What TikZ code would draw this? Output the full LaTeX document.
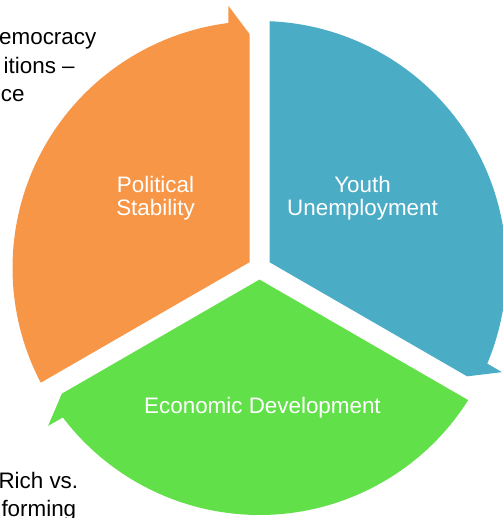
\documentclass[tikz,border=0pt]{standalone}
\usepackage{fontspec}
\setmainfont{Liberation Sans}
\definecolor{segorange}{HTML}{F79646}
\definecolor{segblue}{HTML}{4BACC6}
\definecolor{seggreen}{HTML}{62E04A}
\begin{document}
\begin{tikzpicture}[x=1pt,y=1pt,
  lbl/.style={text=white, font=\fontsize{22.4}{22.5}\selectfont, align=center, inner sep=0pt, outer sep=0pt, anchor=base},
  side/.style={text=black, font=\fontsize{22.4}{28.5}\selectfont, align=left, inner sep=0pt, outer sep=0pt, anchor=base west}]
\useasboundingbox (0,0) rectangle (502,-518);
% orange segment (arrow at top)
\begin{scope}[shift={(259.5,-268)}, rotate=0]
  \fill[segorange] (-10,5.77) -- (-10,234) -- (-31,262) -- (97.24:247)
    arc[start angle=97.24, end angle=207.67, radius=247] -- cycle;
\end{scope}
% blue segment
\begin{scope}[shift={(259.5,-268)}, rotate=-120]
  \fill[segblue] (-10,5.77) -- (-10,234) -- (-31,262) -- (97.24:247)
    arc[start angle=97.24, end angle=207.67, radius=247] -- cycle;
\end{scope}
% green segment
\begin{scope}[shift={(259.5,-268)}, rotate=-240]
  \fill[seggreen] (-10,5.77) -- (-10,234) -- (-31,262) -- (97.24:247)
    arc[start angle=97.24, end angle=207.67, radius=247] -- cycle;
\end{scope}
% multi-line nodes: base anchor sits on the last line's baseline
\node[lbl] (pol) at (155.5,-215.5) {Political\\Stability};
\node[lbl] (youth) at (362.5,-215.5) {Youth\\Unemployment};
\node[lbl] (econ) at (262.5,-413) {Economic Development};
\node[side] (lefttop) at (-0.8,-102) {emocracy\\\hspace*{4.5pt}itions –\\\hspace*{1.8pt}ce};
\node[side] (leftbot) at (-1.5,-516.5) {Rich vs.\\\hspace*{3pt}forming};
\end{tikzpicture}
\end{document}
